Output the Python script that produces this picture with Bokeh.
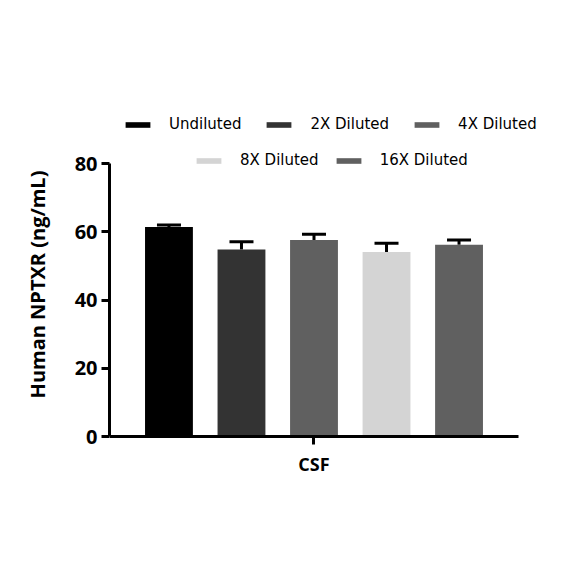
from bokeh.plotting import figure
from bokeh.models import (ColumnDataSource, Range1d, FixedTicker, Legend, LegendItem,
                          Whisker, TeeHead)
from bokeh.embed import file_html
from bokeh.resources import INLINE

categories = ["Undiluted", "2X Diluted", "4X Diluted", "8X Diluted", "16X Diluted"]
means = [61.4, 54.8, 57.6, 54.1, 56.2]
errors = [0.6, 2.3, 1.7, 2.5, 1.4]
colors = ["#000000", "#333333", "#606060", "#d4d4d4", "#606060"]
group_label = "CSF"
y_ticks = [0, 20, 40, 60, 80]
y_min, y_max = 0, 80

xs = list(range(1, len(categories) + 1))
src = ColumnDataSource(dict(
    x=xs, top=means, color=colors, cat=categories,
    upper=[m + e for m, e in zip(means, errors)],
))

# frame is larger than the axes (room for legend above, x label below,
# and symmetric so the y-axis label is centred on 0..80);
# axis lines are bounded to the data extents
px_per_unit = 273 / 80
p = figure(width=568, height=568, output_backend="svg", toolbar_location=None,
           x_range=Range1d(0.18, 5.82 + 20 / 72.5),
           y_range=Range1d(-45 / px_per_unit, 349 / px_per_unit),
           min_border_left=109, min_border_right=30, min_border_top=87,
           min_border_bottom=87)
p.outline_line_color = None
p.xgrid.visible = False
p.ygrid.visible = False

bars = p.vbar(x="x", top="top", width=0.66, bottom=0, fill_color="color",
              line_color=None, source=src)

wh = Whisker(base="x", upper="upper", lower="top", source=src,
             line_color="black", line_width=3,
             upper_head=TeeHead(size=24, line_width=3, line_color="black"),
             lower_head=None)
p.add_layout(wh)

# axes
p.yaxis.bounds = (y_min, y_max)
p.yaxis.ticker = FixedTicker(ticks=y_ticks)
p.yaxis.axis_line_width = 3
p.yaxis.major_tick_line_width = 3
p.yaxis.major_tick_out = 8
p.yaxis.major_tick_in = 0
p.yaxis.minor_tick_line_color = None
p.yaxis.major_label_standoff = 4
p.yaxis.major_label_text_font = "Open Sans"
p.yaxis.major_label_text_font_style = "bold"
p.yaxis.major_label_text_font_size = "20px"
p.yaxis.major_label_text_color = "black"
p.yaxis.axis_label = "Human NPTXR (ng/mL)"
p.yaxis.axis_label_text_font = "Open Sans"
p.yaxis.axis_label_text_font_style = "bold"
p.yaxis.axis_label_text_font_size = "20px"
p.yaxis.axis_label_text_color = "black"
p.yaxis.axis_label_standoff = 21

center = (xs[0] + xs[-1]) / 2
p.xaxis.fixed_location = 0
p.xaxis.bounds = (0.18, 5.82)
p.xaxis.ticker = FixedTicker(ticks=[center])
p.xaxis.major_label_overrides = {center: group_label}
p.xaxis.axis_line_width = 3
p.xaxis.major_tick_line_width = 3
p.xaxis.major_tick_out = 8
p.xaxis.major_tick_in = 0
p.xaxis.minor_tick_line_color = None
p.xaxis.major_label_standoff = 7
p.xaxis.major_label_text_font = "Open Sans"
p.xaxis.major_label_text_font_style = "bold"
p.xaxis.major_label_text_font_size = "18px"
p.xaxis.major_label_text_color = "black"

def make_legend(idxs, loc, spacing):
    items = [LegendItem(label=categories[i], renderers=[bars], index=i) for i in idxs]
    lg = Legend(items=items, orientation="horizontal", location=loc,
                padding=0, margin=0, border_line_color=None,
                background_fill_alpha=0, glyph_width=31, glyph_height=7,
                label_height=20, label_standoff=16, spacing=spacing,
                label_text_font="DejaVu Sans", label_text_font_size="15px",
                label_text_color="black")
    return lg

# locations are relative to the frame's bottom-left corner
p.add_layout(make_legend([0, 1, 2], (13, 302 + 45), 22), "center")
p.add_layout(make_legend([3, 4], (84, 266 + 45), 14), "center")

open("out.html", "w").write(file_html(p, INLINE))
